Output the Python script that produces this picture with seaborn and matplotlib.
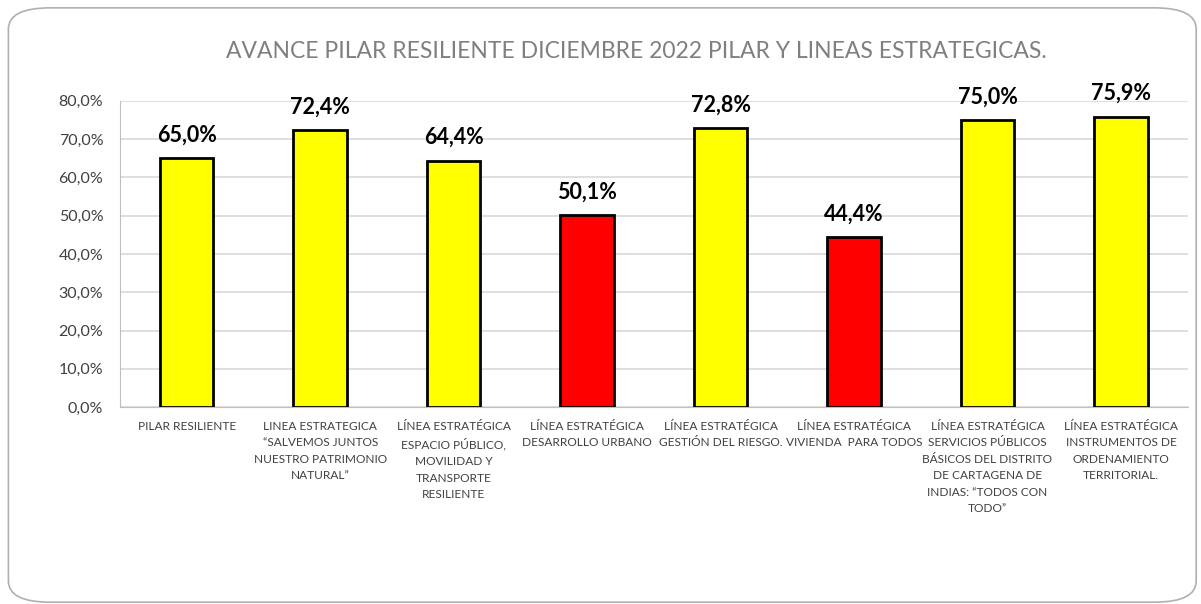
import matplotlib
matplotlib.use("Agg")
import matplotlib.pyplot as plt
import seaborn as sns
from matplotlib.patches import FancyBboxPatch
from matplotlib.ticker import FuncFormatter

# datos del avance por linea estrategica (dic 2022)
categorias = [
    "PILAR RESILIENTE",
    "LINEA ESTRATEGICA\n\u201cSALVEMOS JUNTOS\nNUESTRO PATRIMONIO\nNATURAL\u201d",
    "LÍNEA ESTRATÉGICA\nESPACIO PÚBLICO,\nMOVILIDAD Y\nTRANSPORTE\nRESILIENTE",
    "LÍNEA ESTRATÉGICA\nDESARROLLO URBANO",
    "LÍNEA ESTRATÉGICA\nGESTIÓN DEL RIESGO.",
    "LÍNEA ESTRATÉGICA\nVIVIENDA  PARA TODOS",
    "LÍNEA ESTRATÉGICA\nSERVICIOS PÚBLICOS\nBÁSICOS DEL DISTRITO\nDE CARTAGENA DE\nINDIAS: \u201cTODOS CON\nTODO\u201d",
    "LÍNEA ESTRATÉGICA\nINSTRUMENTOS DE\nORDENAMIENTO\nTERRITORIAL.",
]
avance = [65.0, 72.4, 64.4, 50.1, 72.8, 44.4, 75.0, 75.9]
colores = ["#FFFF00", "#FFFF00", "#FFFF00", "#FF0000", "#FFFF00", "#FF0000", "#FFFF00", "#FFFF00"]

sns.set_style("white")
plt.rcParams['font.family'] = ['Lato', 'DejaVu Sans']

fig = plt.figure(figsize=(12.01, 6.04), dpi=100)
# marco redondeado
fig.patches.append(FancyBboxPatch((0.007, 0.003), 0.989, 0.984,
                                  boxstyle="round,pad=0,rounding_size=0.035",
                                  transform=fig.transFigure, fill=False,
                                  edgecolor="#B0B0B0", linewidth=1.2))
ax = fig.add_axes([0.0999, 0.326, 0.889, 0.507])

sns.barplot(x=categorias, y=avance, hue=categorias, palette=colores, legend=False,
            saturation=1, width=0.4, edgecolor="black", linewidth=2, ax=ax, zorder=3)

for cont, v in zip(ax.containers, avance):
    ax.bar_label(cont, labels=[f"{v:.1f}%".replace(".", ",")], padding=9,
                 fontsize=15.5, fontweight="bold", color="black")

ax.set_ylim(0, 80)
ax.set_yticks(range(0, 81, 10))
ax.yaxis.set_major_formatter(FuncFormatter(lambda y, p: f"{y:.1f}%".replace(".", ",")))
ax.grid(axis="y", color="#D9D9D9", linewidth=1.2, zorder=0)
ax.set_axisbelow(True)
for s in ["top", "right"]:
    ax.spines[s].set_visible(False)
ax.spines["left"].set_color("#BFBFBF")
ax.spines["bottom"].set_color("#BFBFBF")
ax.tick_params(axis="y", length=0, pad=12, labelsize=11.5, labelcolor="#404040")
ax.tick_params(axis="x", length=0, pad=10, labelsize=8.6, labelcolor="#404040")
for lbl in ax.get_xticklabels():
    lbl.set_verticalalignment("top")
    lbl.set_linespacing(1.6)
ax.set_xlabel("")
ax.set_ylabel("")

fig.text(0.53, 0.914, "AVANCE PILAR RESILIENTE DICIEMBRE 2022 PILAR Y LINEAS ESTRATEGICAS.",
         ha="center", va="center", fontsize=16.5, color="#7F7F7F")

fig.savefig("out.png", dpi=100)
